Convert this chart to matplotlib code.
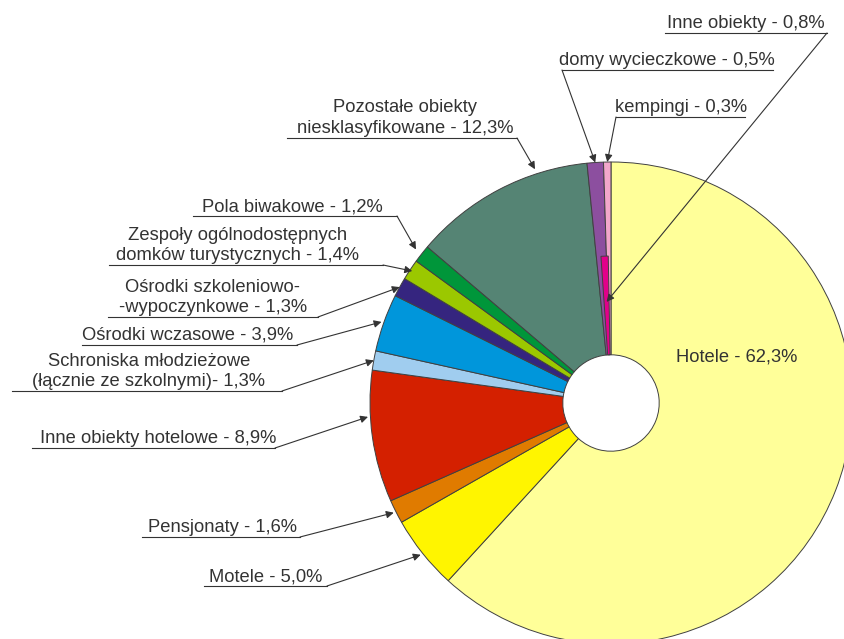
import numpy as np
import matplotlib
matplotlib.use("Agg")
import matplotlib.pyplot as plt

plt.rcParams['font.family'] = ['Liberation Sans', 'DejaVu Sans']

## data
categories = ["Hotele", "Motele", "Pensjonaty", "Inne obiekty hotelowe",
              "Schroniska młodzieżowe", "Ośrodki wczasowe",
              "Ośrodki szkoleniowo-wypoczynkowe", "Zespoły ogólnodostępnych domków",
              "Pola biwakowe", "Pozostałe obiekty niesklasyfikowane",
              "domy wycieczkowe", "Inne obiekty", "kempingi"]
shares = [62.3, 5.0, 1.6, 8.9, 1.3, 3.9, 1.3, 1.4, 1.2, 12.3, 0.5, 0.8, 0.3]
colors = ["#FFFF99", "#FFF500", "#E07B00", "#D42000", "#A0CDEF", "#0096DB",
          "#35257F", "#9BC800", "#00963A", "#558474", "#8C4F9F", "#E2008A",
          "#F2A7CB"]
label_texts = [
    ["Hotele - 62,3%"],
    ["Motele - 5,0%"],
    ["Pensjonaty - 1,6%"],
    ["Inne obiekty hotelowe - 8,9%"],
    ["Schroniska młodzieżowe", "(łącznie ze szkolnymi)- 1,3%"],
    ["Ośrodki wczasowe - 3,9%"],
    ["Ośrodki szkoleniowo-", "-wypoczynkowe - 1,3%"],
    ["Zespoły ogólnodostępnych", "domków turystycznych - 1,4%"],
    ["Pola biwakowe - 1,2%"],
    ["Pozostałe obiekty", "niesklasyfikowane - 12,3%"],
    ["domy wycieczkowe - 0,5%"],
    ["Inne obiekty - 0,8%"],
    ["kempingi - 0,3%"],
]

# label layout in image pixels (from top-left):
# text centre x, underline y, underline x0, x1, leader start side, tip radius, tip pos in wedge
layout = [
    (737, 366, None, None, None, None, None),
    (266, 586, 204, 327, 'r', 1.01, 0.5),
    (223, 537, 142, 300, 'r', 1.01, 0.5),
    (158, 448, 32, 275, 'r', 1.01, 0.65),
    (149, 391, 12, 282, 'r', 1.0, 0.5),
    (188, 345, 82, 297, 'r', 1.01, 0.5),
    (213, 317, 108, 318, 'r', 1.0, 0.5),
    (238, 265, 109, 383, 'r', 0.99, 0.5),
    (292, 216, 193, 397, 'r', 1.03, 0.5),
    (405, 138, 287, 517, 'r', 1.02, 0.72),
    (667, 70, 562, 773, 'l', 1.0, 0.5),
    (746, 33, 665, 827, 'r', 0.42, 0.5),
    (681, 117, 616, 745, 'l', 1.0, 0.5),
]

W, H = 844, 639
CX, CY, R = 611, 403, 241
TXT = "#333333"


def px(x, y):
    return ((x - CX) / R, (CY - y) / R)


fig = plt.figure(figsize=(W / 100, H / 100), dpi=100)
ax = fig.add_axes([0, 0, 1, 1])

wedges, _ = ax.pie(shares, colors=colors, startangle=90, counterclock=False,
                   radius=1.0,
                   wedgeprops=dict(width=0.8, edgecolor="#404040", linewidth=0.7))

# pie() resets the limits, so set them afterwards
ax.set_aspect('auto')
ax.set_xlim(-CX / R, (W - CX) / R)
ax.set_ylim(-(H - CY) / R, CY / R)
ax.axis('off')

# the small slices at the top: magenta only reaches part way out,
# purple and pink fill the outer part above it
w_domy, w_inne, w_kemp = wedges[10], wedges[11], wedges[12]
split = w_inne.theta1 + 0.25 * (w_inne.theta2 - w_inne.theta1)
w_domy.set_theta1(split)
w_kemp.set_theta2(split)
w_inne.set_radius(0.61)
w_inne.set_width(0.41)
w_inne.set_zorder(w_domy.get_zorder() + 1)

for w, lines, lay in zip(wedges, label_texts, layout):
    tx, uy, x0, x1, side, tr, tf = lay
    n = len(lines)
    for i, line in enumerate(lines):
        by = uy - 5 - 20.5 * (n - 1 - i)
        ax.text(*px(tx, by), line, ha='center', va='baseline',
                fontsize=13.2, color=TXT)
    if x0 is None:
        continue
    ax.plot([px(x0, uy)[0], px(x1, uy)[0]], [px(x0, uy)[1]] * 2,
            color=TXT, lw=0.8)
    ang = np.deg2rad(w.theta2 - tf * (w.theta2 - w.theta1))
    tip = (tr * np.cos(ang), tr * np.sin(ang))
    start = px(x1 if side == 'r' else x0, uy)
    ax.annotate("", xy=tip, xytext=start,
                arrowprops=dict(arrowstyle='-|>', color=TXT, lw=0.8,
                                mutation_scale=11, shrinkA=0, shrinkB=0))

fig.savefig("out.png", dpi=100)
